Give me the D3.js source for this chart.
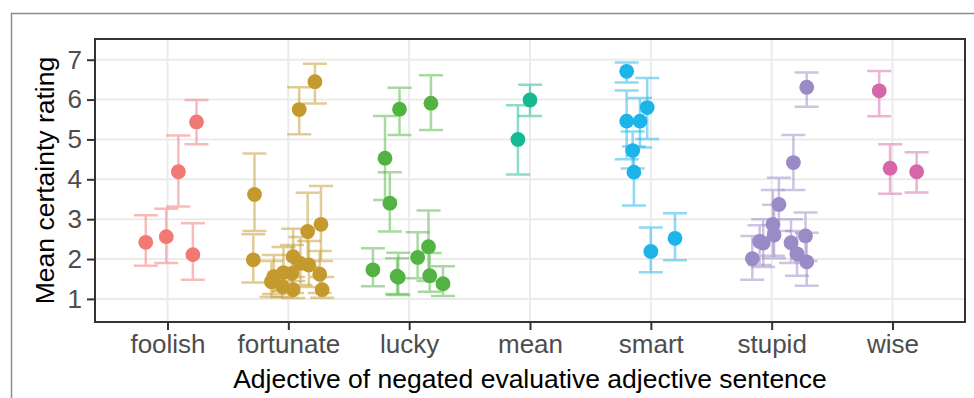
<!DOCTYPE html>
<html>
<head>
<meta charset="utf-8">
<script src="https://cdn.jsdelivr.net/npm/d3@7"></script>
<style>
  body { margin: 0; background: #fff; }
  svg { display: block; font-family: "Liberation Sans", Arial, sans-serif; }
</style>
</head>
<body>
<div id="chart"></div>
<script>
// categories on the x axis, one colour each
var adjectives = ["foolish", "fortunate", "lucky", "mean", "smart", "stupid", "wise"];
var adjColors = ["#F27873", "#C49A2E", "#52B342", "#17B993", "#1DB4EA", "#9A8AC6", "#D867AA"];
var yTicks = [1, 2, 3, 4, 5, 6, 7];

// one entry per item: adjective, jitter (fraction of a band), mean, lower and upper CI
var pointAdj = [
  "foolish", "foolish", "foolish", "foolish", "foolish",
  "fortunate", "fortunate", "fortunate", "fortunate", "fortunate", "fortunate",
  "fortunate", "fortunate", "fortunate", "fortunate", "fortunate", "fortunate",
  "fortunate", "fortunate", "fortunate", "fortunate", "fortunate",
  "lucky", "lucky", "lucky", "lucky", "lucky", "lucky",
  "lucky", "lucky", "lucky", "lucky", "lucky",
  "mean", "mean",
  "smart", "smart", "smart", "smart", "smart", "smart", "smart", "smart",
  "stupid", "stupid", "stupid", "stupid", "stupid", "stupid",
  "stupid", "stupid", "stupid", "stupid", "stupid", "stupid",
  "wise", "wise", "wise"
];
var pointJitter = [
  -0.18, -0.01, 0.09, 0.21, 0.24,
  -0.28, -0.29, 0.09, 0.22, 0.16, 0.27,
  0.04, 0.17, 0.26, 0.28, -0.12, -0.14,
  -0.04, 0.03, -0.05, 0.04, 0.10,
  -0.30, -0.20, -0.16, -0.08, 0.18, -0.09,
  -0.10, 0.07, 0.16, 0.17, 0.28,
  -0.10, 0.00,
  -0.20, -0.03, -0.20, -0.09, -0.15, -0.14, 0.00, 0.20,
  0.29, 0.18, 0.06, -0.16, -0.07, -0.10,
  0.01, 0.02, 0.16, 0.28, 0.21, 0.29,
  -0.11, -0.02, 0.20
];
var pointMean = [
  2.42, 2.56, 4.19, 2.11, 5.44,
  3.62, 1.98, 5.75, 6.45, 2.69, 2.87,
  2.06, 1.85, 1.62, 1.23, 1.56, 1.43,
  1.66, 1.64, 1.31, 1.23, 1.89,
  1.73, 4.53, 3.40, 5.76, 5.91, 1.54,
  1.57, 2.04, 2.31, 1.58, 1.38,
  5.00, 5.99,
  6.71, 5.80, 5.46, 5.46, 4.72, 4.18, 2.19, 2.52,
  6.31, 4.42, 3.37, 2.01, 2.40, 2.44,
  2.87, 2.60, 2.41, 2.58, 2.13, 1.93,
  6.22, 4.28, 4.19
];
var pointLow = [
  1.83, 1.90, 3.32, 1.48, 4.88,
  2.70, 1.41, 5.13, 5.90, 1.80, 1.95,
  1.45, 1.30, 1.15, 1.03, 1.12, 1.05,
  1.20, 1.15, 1.05, 1.02, 1.35,
  1.32, 3.48, 2.69, 5.11, 5.24, 1.10,
  1.12, 1.52, 1.45, 1.18, 1.07,
  4.12, 5.59,
  6.43, 5.01, 4.50, 4.80, 4.27, 3.34, 1.67, 1.97,
  5.82, 3.73, 2.70, 1.48, 1.80, 1.85,
  2.08, 2.02, 1.90, 1.95, 1.58, 1.33,
  5.58, 3.64, 3.67
];
var pointHigh = [
  3.10, 3.26, 5.10, 2.90, 5.99,
  4.65, 2.62, 6.31, 6.90, 3.66, 3.83,
  2.76, 2.45, 2.20, 1.55, 2.10, 1.95,
  2.30, 2.35, 1.70, 1.55, 2.55,
  2.27, 5.59, 4.18, 6.30, 6.61, 2.16,
  2.02, 2.67, 3.22, 2.15, 1.82,
  5.86, 6.37,
  6.93, 6.54, 6.23, 6.04, 5.20, 4.82, 2.79, 3.15,
  6.68, 5.11, 4.04, 2.58, 3.00, 2.85,
  3.73, 3.36, 3.00, 3.17, 2.70, 2.66,
  6.72, 4.88, 4.68
];

var w = 974,
    h = 398;
var panel = { left: 95, right: 965, top: 39, bottom: 322 };

var svg = d3.select("#chart")
    .append("svg")
    .attr("width", w)
    .attr("height", h);

// grey frame the figure sits in
svg.append("path")
    .attr("d", "M11.5," + h + "V13.5H" + w)
    .attr("fill", "none")
    .attr("stroke", "#8c8c8c")
    .attr("stroke-width", 1.5);

var x = d3.scalePoint()
    .domain(adjectives)
    .range([panel.left, panel.right])
    .padding(0.6);

var y = d3.scaleLinear()
    .domain([0.42, 7.52])
    .range([panel.bottom, panel.top]);

var color = d3.scaleOrdinal()
    .domain(adjectives)
    .range(adjColors);

// grid
svg.append("g")
    .selectAll("line.hgrid")
    .data(yTicks)
    .enter().append("line")
    .attr("x1", panel.left).attr("x2", panel.right)
    .attr("y1", function (d) { return y(d); })
    .attr("y2", function (d) { return y(d); })
    .attr("stroke", "#ebebeb")
    .attr("stroke-width", 2);

svg.append("g")
    .selectAll("line.vgrid")
    .data(adjectives)
    .enter().append("line")
    .attr("y1", panel.top).attr("y2", panel.bottom)
    .attr("x1", function (d) { return x(d); })
    .attr("x2", function (d) { return x(d); })
    .attr("stroke", "#ebebeb")
    .attr("stroke-width", 2);

var items = pointAdj.map(function (a, i) {
    return { adj: a, jit: pointJitter[i], mean: pointMean[i], lo: pointLow[i], hi: pointHigh[i] };
});

function px(d) { return x(d.adj) + d.jit * x.step(); }

var capHalf = 12;

var bars = svg.append("g")
    .selectAll("g.err")
    .data(items)
    .enter().append("g")
    .attr("stroke", function (d) { return color(d.adj); })
    .attr("stroke-opacity", 0.5)
    .attr("stroke-width", 2.5)
    .attr("fill", "none");

bars.append("path")
    .attr("d", function (d) {
        var cx = px(d), t = y(d.hi), b = y(d.lo);
        return "M" + (cx - capHalf) + "," + t + "H" + (cx + capHalf) +
               "M" + cx + "," + t + "V" + b +
               "M" + (cx - capHalf) + "," + b + "H" + (cx + capHalf);
    });

svg.append("g")
    .selectAll("circle")
    .data(items)
    .enter().append("circle")
    .attr("cx", px)
    .attr("cy", function (d) { return y(d.mean); })
    .attr("r", 7.4)
    .attr("fill", function (d) { return color(d.adj); });

// panel border
svg.append("rect")
    .attr("x", panel.left)
    .attr("y", panel.top)
    .attr("width", panel.right - panel.left)
    .attr("height", panel.bottom - panel.top)
    .attr("fill", "none")
    .attr("stroke", "#333")
    .attr("stroke-width", 2);

// axes
var yAxis = svg.append("g")
    .attr("transform", "translate(" + panel.left + ",0)")
    .call(d3.axisLeft(y).tickValues(yTicks).tickSize(8).tickPadding(5));

var xAxis = svg.append("g")
    .attr("transform", "translate(0," + panel.bottom + ")")
    .call(d3.axisBottom(x).tickSize(8).tickPadding(5));

[yAxis, xAxis].forEach(function (g) {
    g.select(".domain").remove();
    g.selectAll(".tick line").attr("stroke", "#333").attr("stroke-width", 2);
    g.selectAll(".tick text")
        .attr("fill", "#4d4d4d")
        .style("font-size", "26px")
        .style("font-family", "'Liberation Sans', Arial, sans-serif");
});

svg.append("text")
    .attr("x", (panel.left + panel.right) / 2)
    .attr("y", 388)
    .attr("text-anchor", "middle")
    .style("font-size", "26.5px")
    .attr("fill", "#000")
    .text("Adjective of negated evaluative adjective sentence");

svg.append("text")
    .attr("transform", "translate(54," + (panel.top + panel.bottom) / 2 + ") rotate(-90)")
    .attr("text-anchor", "middle")
    .style("font-size", "26.5px")
    .attr("fill", "#000")
    .text("Mean certainty rating");
</script>
</body>
</html>
